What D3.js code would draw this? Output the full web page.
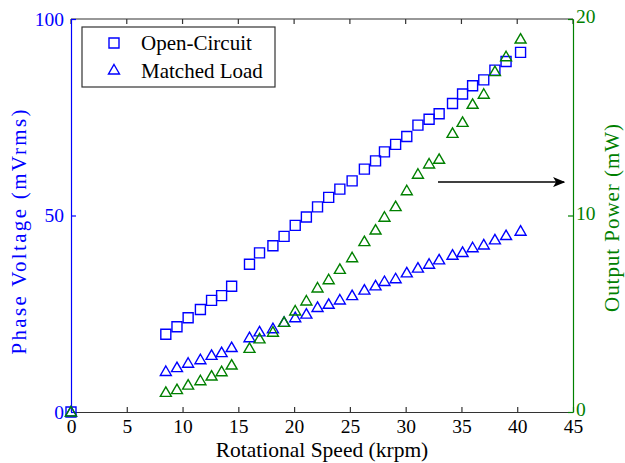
<!DOCTYPE html>
<html>
<head>
<meta charset="utf-8">
<script src="https://cdn.jsdelivr.net/npm/d3@7"></script>
<style>
  body { margin: 0; background: #fff; }
  svg { display: block; font-family: "Liberation Serif", "DejaVu Serif", serif; }
</style>
</head>
<body>
<div id="chart"></div>
<script>
// speed (krpm) for every measured point
const speed = [0, 8.5, 9.5, 10.5, 11.6, 12.6, 13.5, 14.4, 16.0, 16.9, 18.1, 19.1, 20.1, 21.1, 22.1, 23.1,
  24.1, 25.2, 26.3, 27.3, 28.1, 29.1, 30.1, 31.1, 32.1, 33.0, 34.2, 35.1, 36.0, 37.0, 38.0, 39.0, 40.3];
// phase voltage (mVrms), open circuit
const openCircuit = [0, 19.8, 21.7, 24.0, 26.1, 28.4, 29.6, 32.0, 37.6, 40.5, 42.3, 44.7, 47.5, 49.6, 52.2, 54.6,
  56.7, 58.8, 61.8, 63.9, 66.2, 68.1, 70.1, 73.0, 74.5, 75.9, 78.5, 80.9, 83.0, 84.5, 87.0, 89.2, 91.5];
// phase voltage (mVrms), matched load
const matchedLoad = [0, 10.3, 11.3, 12.4, 13.3, 14.4, 15.1, 16.4, 18.9, 20.4, 21.2, 22.8, 24.0, 24.9, 26.6, 27.4,
  28.5, 29.6, 31.0, 32.1, 33.2, 33.9, 35.4, 36.6, 37.6, 38.7, 39.9, 40.6, 41.8, 42.5, 43.8, 44.9, 46.0];
// output power (mW), matched load
const outputPower = [0, 1.00, 1.14, 1.37, 1.59, 1.83, 2.05, 2.39, 3.24, 3.72, 4.06, 4.56, 5.14, 5.65, 6.31, 6.73,
  7.26, 7.85, 8.67, 9.26, 9.91, 10.45, 11.26, 12.10, 12.62, 12.86, 14.18, 14.74, 15.66, 16.17, 17.32, 18.08, 18.98];

const xTicks = [0, 5, 10, 15, 20, 25, 30, 35, 40, 45];
const leftTicks = [0, 50, 100];
const rightTicks = [0, 10, 20];
const legendLabels = ["Open-Circuit", "Matched Load"];
// arrow pointing at the right axis (speed, power)
const arrowFrom = [32.9, 11.7];
const arrowTo = [44.2, 11.7];

const width = 625, height = 463;
const blue = "#0000ff", green = "#008000", dark = "#333";
const serif = "'Liberation Serif', 'DejaVu Serif', serif";

const svg = d3.select("#chart").append("svg")
  .attr("width", width)
  .attr("height", height);

const x = d3.scaleLinear().domain([0, 45]).range([71, 573]);
const yL = d3.scaleLinear().domain([0, 100]).range([412, 19]);
const yR = d3.scaleLinear().domain([0, 20]).range([412, 19]);

//top border line
svg.append("line")
  .attr("x1", x(0)).attr("x2", x(45))
  .attr("y1", yL(100)).attr("y2", yL(100))
  .attr("stroke", dark).attr("stroke-width", 1.2);

//top ticks
svg.selectAll(".topTick")
  .data(xTicks)
  .enter()
  .append("line")
    .attr("x1", d => x(d)).attr("x2", d => x(d))
    .attr("y1", yL(100)).attr("y2", yL(100) + 5)
    .attr("stroke", dark).attr("stroke-width", 1.2);

//bottom axis
let gx = svg.append("g")
  .attr("transform", "translate(0," + yL(0) + ")")
  .call(d3.axisBottom(x).tickValues(xTicks).tickSizeInner(-5).tickSizeOuter(0).tickPadding(7));
gx.attr("font-family", serif);
gx.select(".domain").attr("stroke", dark).attr("stroke-width", 1.2);
gx.selectAll(".tick line").attr("stroke", dark).attr("stroke-width", 1.2);
gx.selectAll("text").attr("fill", "#000").style("font-size", "19.5px");

//left axis
let gl = svg.append("g")
  .attr("transform", "translate(" + x(0) + ",0)")
  .call(d3.axisLeft(yL).tickValues(leftTicks).tickSizeInner(-5).tickSizeOuter(0).tickPadding(7));
gl.attr("font-family", serif);
gl.select(".domain").attr("stroke", blue).attr("stroke-width", 1.2);
gl.selectAll(".tick line").attr("stroke", blue).attr("stroke-width", 1.2);
gl.selectAll("text").attr("fill", blue).style("font-size", "19.5px");

//right axis
let gr = svg.append("g")
  .attr("transform", "translate(" + x(45) + ",0)")
  .call(d3.axisRight(yR).tickValues(rightTicks).tickSizeInner(-5).tickSizeOuter(0).tickPadding(3));
gr.attr("font-family", serif);
gr.select(".domain").attr("stroke", green).attr("stroke-width", 1.2);
gr.selectAll(".tick line").attr("stroke", green).attr("stroke-width", 1.2);
gr.selectAll("text").attr("fill", green).style("font-size", "19.5px").attr("dy", "0.2em");

//axis titles
svg.append("text")
  .attr("x", 322).attr("y", 457)
  .attr("text-anchor", "middle")
  .style("font-size", "21.5px")
  .text("Rotational Speed (krpm)");

svg.append("text")
  .attr("transform", "translate(26,232) rotate(-90)")
  .attr("text-anchor", "middle")
  .attr("fill", blue)
  .attr("textLength", 245).attr("lengthAdjust", "spacing")
  .style("font-size", "21px")
  .text("Phase Voltage (mVrms)");

svg.append("text")
  .attr("transform", "translate(619,218) rotate(-90)")
  .attr("text-anchor", "middle")
  .attr("fill", green)
  .attr("textLength", 188).attr("lengthAdjust", "spacing")
  .style("font-size", "21px")
  .text("Output Power (mW)");

//marker shapes
let squarePath = "M-5,-5H5V5H-5Z";
let trianglePath = "M0,-5.5L5.5,4H-5.5Z";

let pts = speed.map((s, i) => ({ s: s, oc: openCircuit[i], ml: matchedLoad[i], p: outputPower[i] }));

svg.selectAll(".oc")
  .data(pts)
  .enter()
  .append("path")
    .attr("class", "oc")
    .attr("d", squarePath)
    .attr("transform", d => "translate(" + x(d.s) + "," + yL(d.oc) + ")")
    .attr("fill", "none").attr("stroke", blue).attr("stroke-width", 1.4);

svg.selectAll(".ml")
  .data(pts)
  .enter()
  .append("path")
    .attr("class", "ml")
    .attr("d", trianglePath)
    .attr("transform", d => "translate(" + x(d.s) + "," + yL(d.ml) + ")")
    .attr("fill", "none").attr("stroke", blue).attr("stroke-width", 1.4);

svg.selectAll(".pw")
  .data(pts)
  .enter()
  .append("path")
    .attr("class", "pw")
    .attr("d", trianglePath)
    .attr("transform", d => "translate(" + x(d.s) + "," + yR(d.p) + ")")
    .attr("fill", "none").attr("stroke", green).attr("stroke-width", 1.4);

//arrow
svg.append("defs").append("marker")
  .attr("id", "head")
  .attr("viewBox", "0 0 12 10")
  .attr("refX", 11).attr("refY", 5)
  .attr("markerWidth", 12).attr("markerHeight", 10)
  .attr("markerUnits", "userSpaceOnUse")
  .attr("orient", "auto")
  .append("path")
    .attr("d", "M0,0L12,5L0,10L3,5Z")
    .attr("fill", "#000");

svg.append("line")
  .attr("x1", x(arrowFrom[0])).attr("y1", yR(arrowFrom[1]))
  .attr("x2", x(arrowTo[0])).attr("y2", yR(arrowTo[1]))
  .attr("stroke", "#000").attr("stroke-width", 1.5)
  .attr("marker-end", "url(#head)");

//legend
let legend = svg.append("g");
legend.append("rect")
  .attr("x", 82).attr("y", 27)
  .attr("width", 193).attr("height", 60)
  .attr("fill", "#fff").attr("stroke", dark).attr("stroke-width", 1.2);

legend.selectAll(".lgItem")
  .data(legendLabels)
  .enter()
  .append("path")
    .attr("d", (d, i) => i === 0 ? squarePath : trianglePath)
    .attr("transform", (d, i) => "translate(114," + (43 + i * 27) + ")")
    .attr("fill", "none").attr("stroke", blue).attr("stroke-width", 1.4);

legend.selectAll(".lgText")
  .data(legendLabels)
  .enter()
  .append("text")
    .attr("x", 141)
    .attr("y", (d, i) => 50 + i * 27.5)
    .style("font-size", "21px")
    .text(d => d);
</script>
</body>
</html>
